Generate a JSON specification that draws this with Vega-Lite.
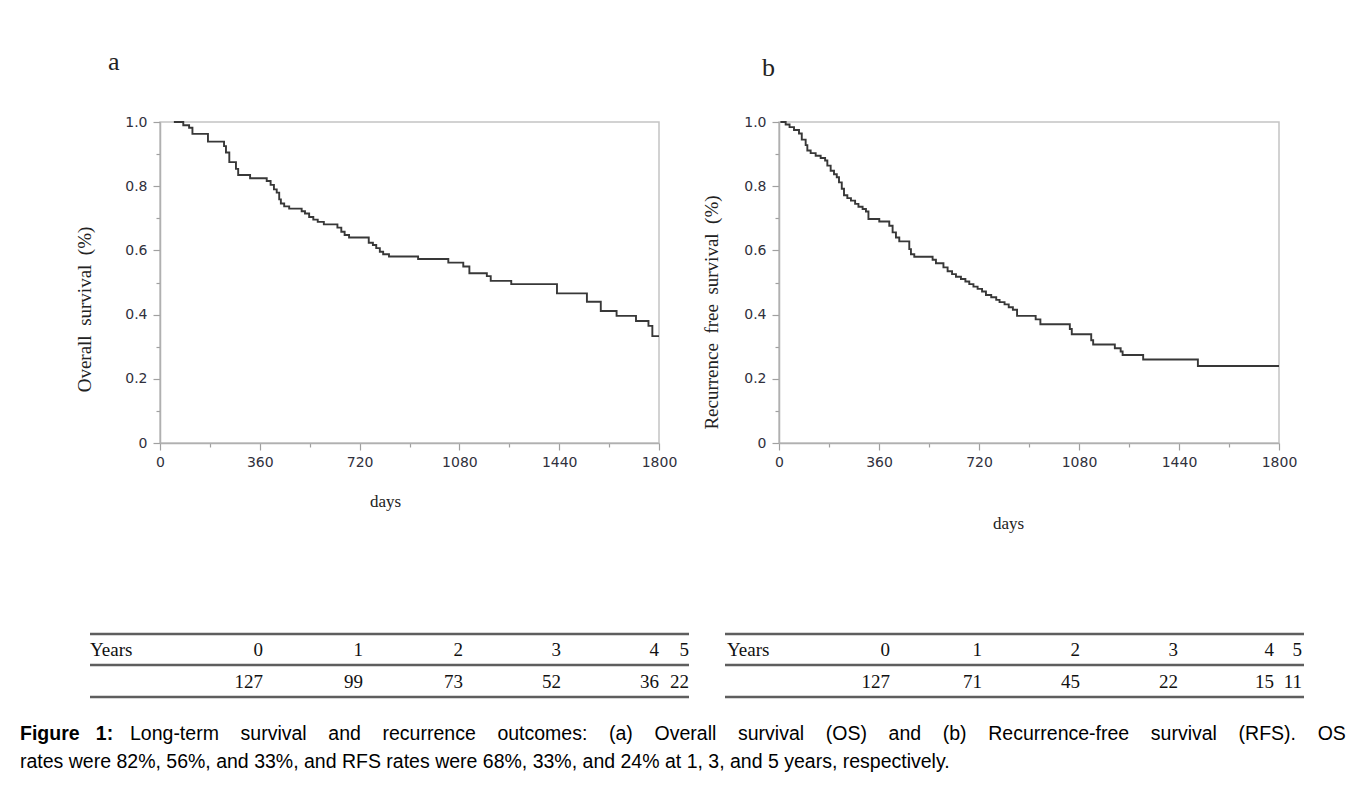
{
  "$schema": "https://vega.github.io/schema/vega-lite/v6.json",
  "background": "white",
  "padding": {"left": 20, "top": 48, "right": 0, "bottom": 0},
  "spacing": 100,
  "config": {"view": {"stroke": null}, "axis": {"grid": false}},
  "datasets": {
    "os": [
      {"day": 50, "surv": 1.0}, {"day": 84, "surv": 0.990}, {"day": 105, "surv": 0.982}, {"day": 117, "surv": 0.963},
      {"day": 173, "surv": 0.939}, {"day": 231, "surv": 0.925}, {"day": 238, "surv": 0.905}, {"day": 250, "surv": 0.875},
      {"day": 274, "surv": 0.854}, {"day": 282, "surv": 0.835}, {"day": 325, "surv": 0.825}, {"day": 385, "surv": 0.816},
      {"day": 399, "surv": 0.804}, {"day": 411, "surv": 0.79}, {"day": 421, "surv": 0.78}, {"day": 430, "surv": 0.759},
      {"day": 436, "surv": 0.746}, {"day": 448, "surv": 0.737}, {"day": 466, "surv": 0.73}, {"day": 511, "surv": 0.722},
      {"day": 523, "surv": 0.715}, {"day": 538, "surv": 0.704}, {"day": 553, "surv": 0.696}, {"day": 569, "surv": 0.689},
      {"day": 591, "surv": 0.681}, {"day": 640, "surv": 0.671}, {"day": 654, "surv": 0.658}, {"day": 666, "surv": 0.648},
      {"day": 682, "surv": 0.64}, {"day": 753, "surv": 0.624}, {"day": 768, "surv": 0.617}, {"day": 780, "surv": 0.607},
      {"day": 793, "surv": 0.596}, {"day": 805, "surv": 0.588}, {"day": 826, "surv": 0.581}, {"day": 931, "surv": 0.573},
      {"day": 1040, "surv": 0.562}, {"day": 1094, "surv": 0.55}, {"day": 1116, "surv": 0.529}, {"day": 1179, "surv": 0.52},
      {"day": 1193, "surv": 0.505}, {"day": 1267, "surv": 0.495}, {"day": 1432, "surv": 0.466}, {"day": 1540, "surv": 0.44},
      {"day": 1590, "surv": 0.411}, {"day": 1647, "surv": 0.396}, {"day": 1717, "surv": 0.38}, {"day": 1762, "surv": 0.365},
      {"day": 1776, "surv": 0.333}, {"day": 1800, "surv": 0.333}
    ],
    "rfs": [
      {"day": 5, "surv": 1.0}, {"day": 24, "surv": 0.992}, {"day": 38, "surv": 0.984}, {"day": 54, "surv": 0.975},
      {"day": 72, "surv": 0.964}, {"day": 82, "surv": 0.945}, {"day": 96, "surv": 0.928}, {"day": 102, "surv": 0.911},
      {"day": 114, "surv": 0.903}, {"day": 132, "surv": 0.895}, {"day": 150, "surv": 0.888}, {"day": 166, "surv": 0.88},
      {"day": 174, "surv": 0.864}, {"day": 186, "surv": 0.848}, {"day": 198, "surv": 0.837}, {"day": 208, "surv": 0.828},
      {"day": 216, "surv": 0.812}, {"day": 226, "surv": 0.792}, {"day": 234, "surv": 0.772}, {"day": 246, "surv": 0.763},
      {"day": 259, "surv": 0.755}, {"day": 274, "surv": 0.745}, {"day": 286, "surv": 0.736}, {"day": 301, "surv": 0.729},
      {"day": 313, "surv": 0.721}, {"day": 322, "surv": 0.698}, {"day": 361, "surv": 0.69}, {"day": 397, "surv": 0.677},
      {"day": 409, "surv": 0.656}, {"day": 421, "surv": 0.64}, {"day": 433, "surv": 0.628}, {"day": 469, "surv": 0.604},
      {"day": 475, "surv": 0.588}, {"day": 487, "surv": 0.58}, {"day": 553, "surv": 0.571}, {"day": 565, "surv": 0.56},
      {"day": 592, "surv": 0.547}, {"day": 607, "surv": 0.535}, {"day": 623, "surv": 0.526}, {"day": 637, "surv": 0.518},
      {"day": 655, "surv": 0.511}, {"day": 671, "surv": 0.503}, {"day": 685, "surv": 0.495}, {"day": 700, "surv": 0.487},
      {"day": 715, "surv": 0.48}, {"day": 731, "surv": 0.472}, {"day": 745, "surv": 0.461}, {"day": 764, "surv": 0.454},
      {"day": 782, "surv": 0.446}, {"day": 794, "surv": 0.439}, {"day": 812, "surv": 0.432}, {"day": 827, "surv": 0.423},
      {"day": 842, "surv": 0.415}, {"day": 857, "surv": 0.396}, {"day": 924, "surv": 0.385}, {"day": 941, "surv": 0.37},
      {"day": 1047, "surv": 0.355}, {"day": 1054, "surv": 0.339}, {"day": 1124, "surv": 0.32}, {"day": 1131, "surv": 0.307},
      {"day": 1209, "surv": 0.295}, {"day": 1230, "surv": 0.285}, {"day": 1237, "surv": 0.274}, {"day": 1311, "surv": 0.26},
      {"day": 1508, "surv": 0.24}, {"day": 1800, "surv": 0.24}
    ],
    "tableA": [
      {"line": 1, "year": 0, "cell": "0"}, {"line": 1, "year": 1, "cell": "1"}, {"line": 1, "year": 2, "cell": "2"},
      {"line": 1, "year": 3, "cell": "3"}, {"line": 1, "year": 4, "cell": "4"}, {"line": 1, "year": 5, "cell": "5"},
      {"line": 3, "year": 0, "cell": "127"}, {"line": 3, "year": 1, "cell": "99"}, {"line": 3, "year": 2, "cell": "73"},
      {"line": 3, "year": 3, "cell": "52"}, {"line": 3, "year": 4, "cell": "36"}, {"line": 3, "year": 5, "cell": "22"}
    ],
    "tableB": [
      {"line": 1, "year": 0, "cell": "0"}, {"line": 1, "year": 1, "cell": "1"}, {"line": 1, "year": 2, "cell": "2"},
      {"line": 1, "year": 3, "cell": "3"}, {"line": 1, "year": 4, "cell": "4"}, {"line": 1, "year": 5, "cell": "5"},
      {"line": 3, "year": 0, "cell": "127"}, {"line": 3, "year": 1, "cell": "71"}, {"line": 3, "year": 2, "cell": "45"},
      {"line": 3, "year": 3, "cell": "22"}, {"line": 3, "year": 4, "cell": "15"}, {"line": 3, "year": 5, "cell": "11"}
    ],
    "tableLines": [{"line": 0}, {"line": 2}, {"line": 4}],
    "rowLabel": [{"line": 1, "label": "Years"}],
    "captionBold": [{"line": 5, "text": "Figure\u00a0\u00a0\u00a01:"}],
    "caption1": [{"line": 5, "text": "Long-term\u00a0\u00a0\u00a0\u00a0survival\u00a0\u00a0\u00a0\u00a0and\u00a0\u00a0\u00a0\u00a0recurrence\u00a0\u00a0\u00a0\u00a0outcomes:\u00a0\u00a0\u00a0\u00a0(a)\u00a0\u00a0\u00a0\u00a0Overall\u00a0\u00a0\u00a0\u00a0survival\u00a0\u00a0\u00a0\u00a0(OS)\u00a0\u00a0\u00a0\u00a0and\u00a0\u00a0\u00a0\u00a0(b)\u00a0\u00a0\u00a0\u00a0Recurrence-free\u00a0\u00a0\u00a0\u00a0survival\u00a0\u00a0\u00a0\u00a0(RFS).\u00a0\u00a0\u00a0\u00a0OS"}],
    "caption2": [{"line": 6, "text": "rates were 82%, 56%, and 33%, and RFS rates were 68%, 33%, and 24% at 1, 3, and 5 years, respectively."}]
  },
  "vconcat": [
    {
      "bounds": "flush",
      "spacing": 120,
      "hconcat": [
        {
          "width": 20,
          "height": 321,
          "data": {"values": []},
          "mark": "point"
        },
        {
          "width": 499,
          "height": 321,
          "view": {"stroke": "#c4c4c4", "strokeWidth": 1.5},
          "title": {"text": "a", "anchor": "start", "frame": "group", "font": "Liberation Serif", "fontSize": 26, "fontWeight": "normal", "color": "#222222", "baseline": "alphabetic", "offset": 19, "dx": -52},
          "data": {"name": "os"},
          "mark": {"type": "line", "interpolate": "step-after", "color": "#383838", "strokeWidth": 1.9},
          "encoding": {
            "x": {
              "field": "day", "type": "quantitative",
              "scale": {"domain": [0, 1800], "nice": false, "zero": false},
              "axis": {
                "values": [0, 180, 360, 540, 720, 900, 1080, 1260, 1440, 1620, 1800],
                "format": "d",
                "labelExpr": "datum.value % 360 === 0 ? datum.label : ''",
                "labelFont": "DejaVu Sans", "labelFontSize": 14, "labelColor": "#30303c", "labelPadding": 5,
                "labelFlush": false, "labelOverlap": false,
                "domainColor": "#b0b0b0", "domainWidth": 1.5,
                "tickColor": "#a0a0a0", "tickWidth": 1.2,
                "tickSize": {"condition": {"test": "datum.value % 360 === 0", "value": 7}, "value": 4},
                "title": "days", "titleFont": "Liberation Serif", "titleFontSize": 17, "titleFontWeight": "normal", "titleColor": "#222222",
                "titleX": 225, "titleY": 58, "titleBaseline": "middle", "titleAlign": "center"
              }
            },
            "y": {
              "field": "surv", "type": "quantitative",
              "scale": {"domain": [0, 1], "nice": false},
              "axis": {
                "values": [0, 0.1, 0.2, 0.3, 0.4, 0.5, 0.6, 0.7, 0.8, 0.9, 1.0],
                "labelExpr": "round(datum.value * 10) % 2 === 0 ? (datum.value === 0 ? '0' : format(datum.value, '.1f')) : ''",
                "labelFont": "DejaVu Sans", "labelFontSize": 14, "labelColor": "#30303c", "labelPadding": 6,
                "labelFlush": false, "labelOverlap": false,
                "domainColor": "#b0b0b0", "domainWidth": 1.5,
                "tickColor": "#a0a0a0", "tickWidth": 1.2,
                "tickSize": {"condition": {"test": "round(datum.value * 10) % 2 === 0", "value": 7}, "value": 4},
                "title": "Overall\u00a0\u00a0survival\u00a0\u00a0(%)", "titleFont": "Liberation Serif", "titleFontSize": 19, "titleFontWeight": "normal", "titleColor": "#222222",
                "titleX": -76, "titleY": 187, "titleBaseline": "middle", "titleAlign": "center", "titleAngle": -90
              }
            }
          }
        },
        {
          "width": 500,
          "height": 321,
          "view": {"stroke": "#c4c4c4", "strokeWidth": 1.5},
          "title": {"text": "b", "anchor": "start", "frame": "group", "font": "Liberation Serif", "fontSize": 26, "fontWeight": "normal", "color": "#222222", "baseline": "alphabetic", "offset": 13, "dx": -17},
          "data": {"name": "rfs"},
          "mark": {"type": "line", "interpolate": "step-after", "color": "#383838", "strokeWidth": 1.9},
          "encoding": {
            "x": {
              "field": "day", "type": "quantitative",
              "scale": {"domain": [0, 1800], "nice": false, "zero": false},
              "axis": {
                "values": [0, 180, 360, 540, 720, 900, 1080, 1260, 1440, 1620, 1800],
                "format": "d",
                "labelExpr": "datum.value % 360 === 0 ? datum.label : ''",
                "labelFont": "DejaVu Sans", "labelFontSize": 14, "labelColor": "#30303c", "labelPadding": 5,
                "labelFlush": false, "labelOverlap": false,
                "domainColor": "#b0b0b0", "domainWidth": 1.5,
                "tickColor": "#a0a0a0", "tickWidth": 1.2,
                "tickSize": {"condition": {"test": "datum.value % 360 === 0", "value": 7}, "value": 4},
                "title": "days", "titleFont": "Liberation Serif", "titleFontSize": 17, "titleFontWeight": "normal", "titleColor": "#222222",
                "titleX": 229, "titleY": 80, "titleBaseline": "middle", "titleAlign": "center"
              }
            },
            "y": {
              "field": "surv", "type": "quantitative",
              "scale": {"domain": [0, 1], "nice": false},
              "axis": {
                "values": [0, 0.1, 0.2, 0.3, 0.4, 0.5, 0.6, 0.7, 0.8, 0.9, 1.0],
                "labelExpr": "round(datum.value * 10) % 2 === 0 ? (datum.value === 0 ? '0' : format(datum.value, '.1f')) : ''",
                "labelFont": "DejaVu Sans", "labelFontSize": 14, "labelColor": "#30303c", "labelPadding": 6,
                "labelFlush": false, "labelOverlap": false,
                "domainColor": "#b0b0b0", "domainWidth": 1.5,
                "tickColor": "#a0a0a0", "tickWidth": 1.2,
                "tickSize": {"condition": {"test": "round(datum.value * 10) % 2 === 0", "value": 7}, "value": 4},
                "title": "Recurrence\u00a0\u00a0free\u00a0\u00a0survival\u00a0\u00a0(%)", "titleFont": "Liberation Serif", "titleFontSize": 19, "titleFontWeight": "normal", "titleColor": "#222222",
                "titleX": -68, "titleY": 190, "titleBaseline": "middle", "titleAlign": "center", "titleAngle": -90
              }
            }
          }
        }
      ]
    },
    {
      "width": 1324,
      "height": 140,
      "resolve": {"scale": {"x": "independent"}},
      "encoding": {
        "y": {"field": "line", "type": "quantitative", "scale": {"domain": [0, 1, 2, 3, 4, 5, 6], "range": [1, 17, 32, 49, 64, 101, 129], "nice": false, "zero": false}, "axis": null}
      },
      "layer": [
        {
          "data": {"name": "tableLines"},
          "mark": {"type": "rule", "color": "#5e5e5e", "strokeWidth": 2.5},
          "encoding": {"x": {"value": 70}, "x2": {"value": 669}}
        },
        {
          "data": {"name": "tableLines"},
          "mark": {"type": "rule", "color": "#5e5e5e", "strokeWidth": 2.5},
          "encoding": {"x": {"value": 705}, "x2": {"value": 1284}}
        },
        {
          "data": {"name": "rowLabel"},
          "mark": {"type": "text", "align": "left", "baseline": "middle", "font": "Liberation Serif", "fontSize": 19, "color": "#111111"},
          "encoding": {"x": {"value": 70}, "text": {"field": "label"}}
        },
        {
          "data": {"name": "rowLabel"},
          "mark": {"type": "text", "align": "left", "baseline": "middle", "font": "Liberation Serif", "fontSize": 19, "color": "#111111"},
          "encoding": {"x": {"value": 707}, "text": {"field": "label"}}
        },
        {
          "data": {"name": "tableA"},
          "mark": {"type": "text", "align": "right", "baseline": "middle", "font": "Liberation Serif", "fontSize": 19, "color": "#111111"},
          "encoding": {
            "x": {"field": "year", "type": "quantitative", "scale": {"domain": [0, 1, 2, 3, 4, 5], "range": [243, 343, 443, 541, 639, 669], "nice": false, "zero": false}, "axis": null},
            "text": {"field": "cell", "type": "nominal"}
          }
        },
        {
          "data": {"name": "tableB"},
          "mark": {"type": "text", "align": "right", "baseline": "middle", "font": "Liberation Serif", "fontSize": 19, "color": "#111111"},
          "encoding": {
            "x": {"field": "year", "type": "quantitative", "scale": {"domain": [0, 1, 2, 3, 4, 5], "range": [870, 962, 1060, 1158, 1254, 1282], "nice": false, "zero": false}, "axis": null},
            "text": {"field": "cell", "type": "nominal"}
          }
        },
        {
          "data": {"name": "captionBold"},
          "mark": {"type": "text", "align": "left", "baseline": "middle", "font": "Liberation Sans", "fontSize": 19.5, "fontWeight": "bold", "color": "#000000"},
          "encoding": {"x": {"value": 0}, "text": {"field": "text"}}
        },
        {
          "data": {"name": "caption1"},
          "mark": {"type": "text", "align": "left", "baseline": "middle", "font": "Liberation Sans", "fontSize": 19.5, "color": "#000000", "dx": 110},
          "encoding": {"x": {"value": 0}, "text": {"field": "text"}}
        },
        {
          "data": {"name": "caption2"},
          "mark": {"type": "text", "align": "left", "baseline": "middle", "font": "Liberation Sans", "fontSize": 19.5, "color": "#000000"},
          "encoding": {"x": {"value": 0}, "text": {"field": "text"}}
        }
      ]
    }
  ]
}
